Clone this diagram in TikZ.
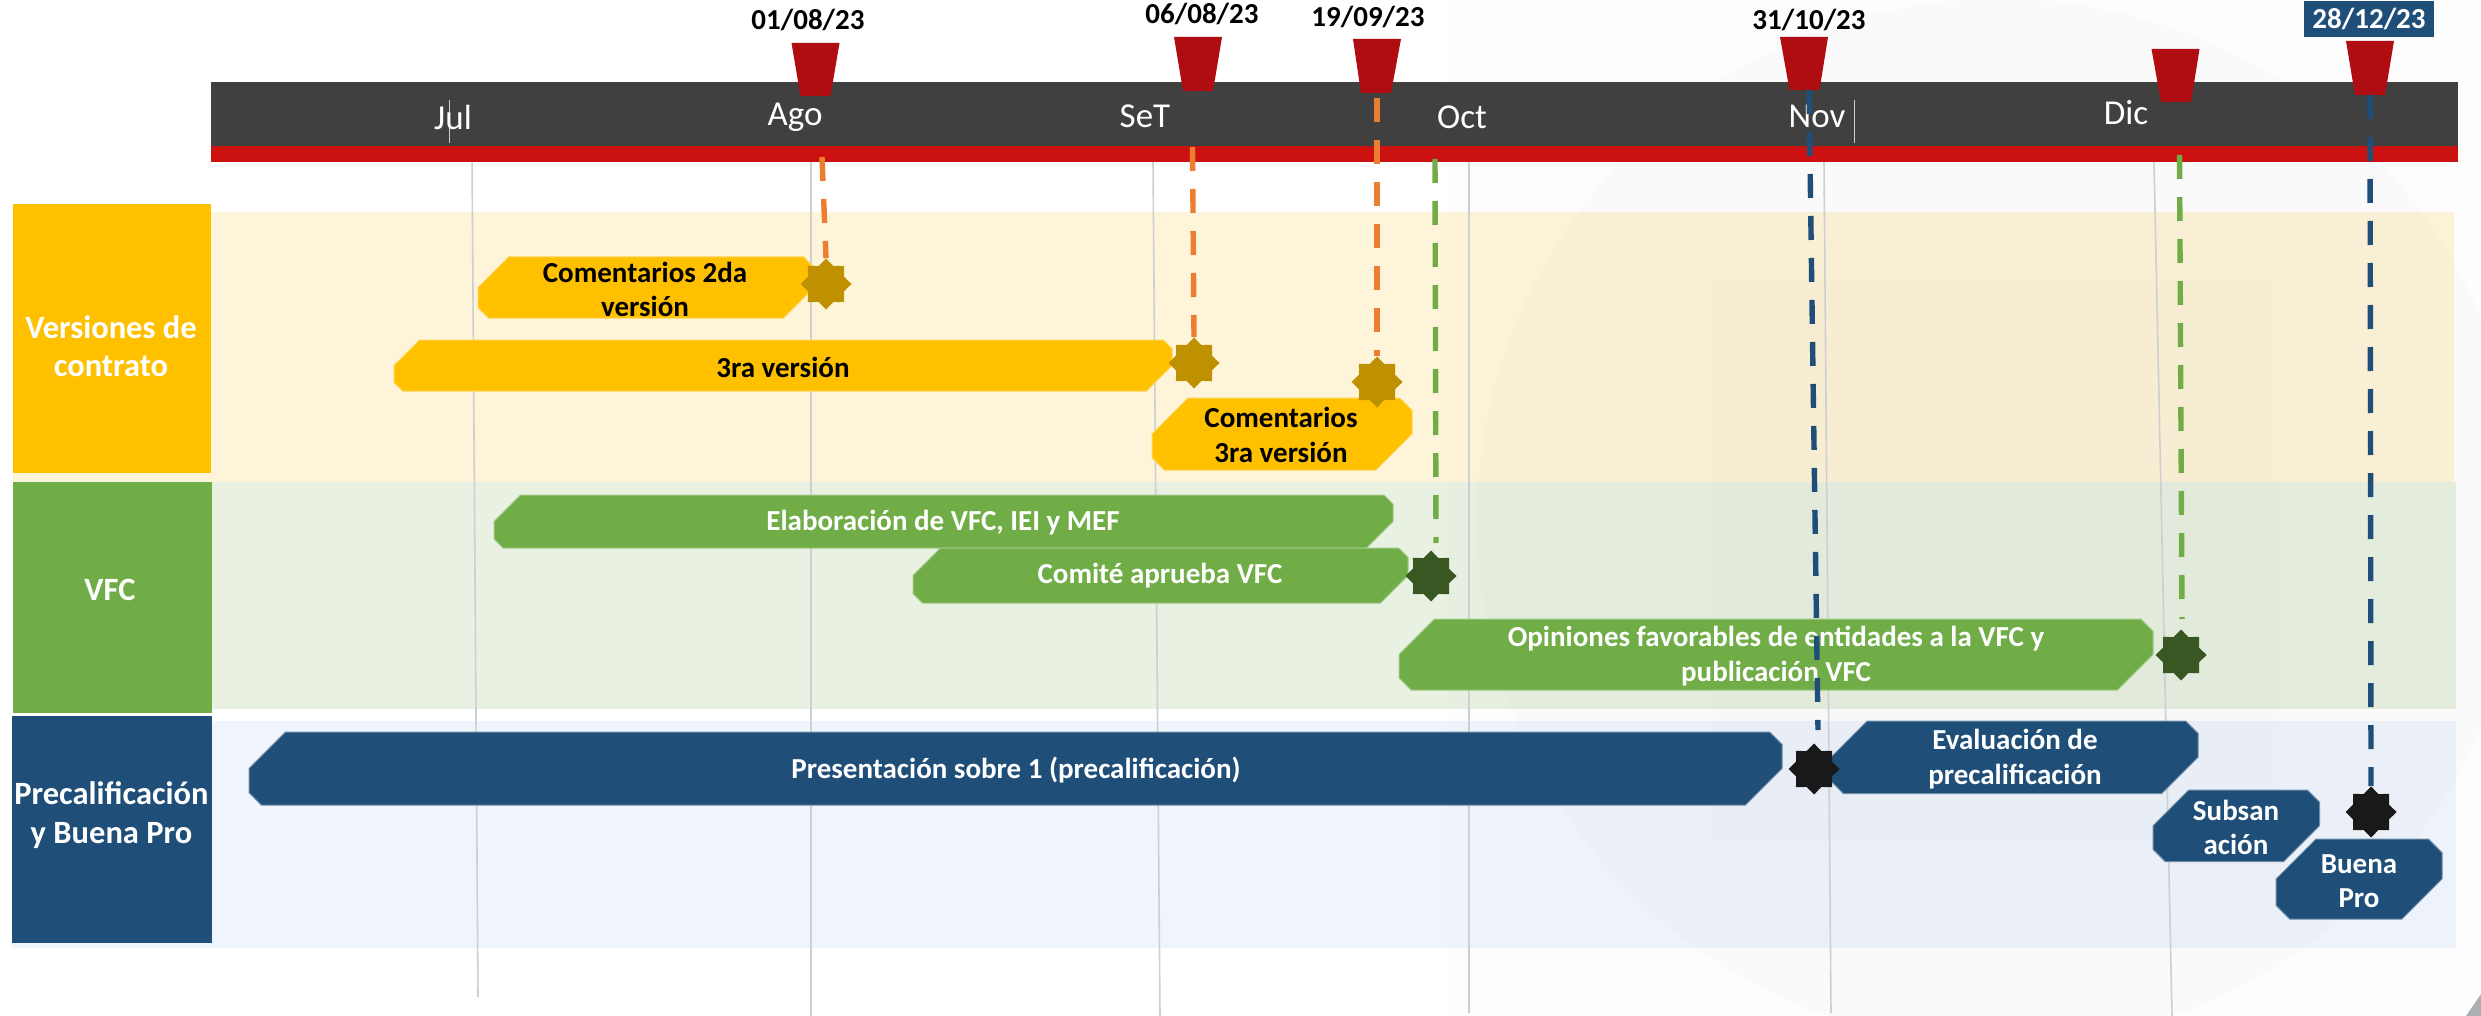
\documentclass[tikz,border=0pt]{standalone}
\usepackage{fontspec}
\setmainfont{Carlito}
\usetikzlibrary{shapes.geometric}
\pgfdeclarelayer{front}
\pgfsetlayers{main,front}
\definecolor{cY}{HTML}{FFC000}
\definecolor{cYb}{HTML}{FEF4DA}
\definecolor{cG}{HTML}{70AD47}
\definecolor{cGb}{HTML}{E9F1E2}
\definecolor{cN}{HTML}{1F4E79}
\definecolor{cNb}{HTML}{F0F4FC}
\definecolor{cDark}{HTML}{404040}
\definecolor{cRed}{HTML}{CC1111}
\definecolor{cMark}{HTML}{B00D12}
\definecolor{cOr}{HTML}{ED7D31}
\definecolor{cGrid}{HTML}{CCD0D0}
\definecolor{cCorner}{HTML}{ABAEB3}
\tikzset{
  x=1pt,y=-1pt,
  dateT/.style={font=\fontsize{29}{31}\selectfont\bfseries,text=black,inner sep=0pt},
  monthT/.style={font=\fontsize{35}{37}\selectfont,text=white,inner sep=0pt},
  barT/.style={font=\fontsize{29}{34.5}\selectfont\bfseries,align=center,inner sep=0pt},
  headT/.style={font=\fontsize{32.5}{38.5}\selectfont\bfseries,text=white,align=center,inner sep=0pt},
  gridL/.style={draw=cGrid,line width=1.6pt},
  dashL/.style={line width=5.4pt,dash pattern=on 24pt off 18pt},
  burst/.style={star,star points=8,star point ratio=1.31,minimum size=51pt,inner sep=0pt,draw=none,fill=#1},
  wm/.style={fill=black,fill opacity=#1,draw=none}
}
\newcommand{\snipbar}[9]{%
  \pgfmathsetmacro{\bs}{0.5*(#5-#3)}%
  \pgfmathsetmacro{\ss}{0.17*(#5-#3)}%
  \filldraw[fill=#6,draw=#6!65!white,line width=1pt] (#2+\bs,#3) -- (#4-\ss,#3) -- (#4,#3+\ss) -- (#4,#5-\bs) -- (#4-\bs,#5) -- (#2+\ss,#5) -- (#2,#5-\ss) -- (#2,#3+\bs) -- cycle;
  \node[barT,text=#7] (#1) at (#8,#9)}
\newcommand{\pin}[5]{%
  \fill[cMark] (#2-24,#3) -- (#2+24,#3) -- (#4+15,#5) -- (#4-15,#5) -- cycle;
  \coordinate (#1) at (#4,#5);}
\begin{document}
\begin{tikzpicture}
\useasboundingbox (0,0) rectangle (2481,1016);
\fill[white] (0,0) rectangle (2481,1016);
% bands
\fill[cYb] (13,212) rectangle (2454,482);
\fill[cGb] (212,482) rectangle (2456,709);
\fill[cNb] (12,721) rectangle (2456,948);
% watermark
\fill[wm=.006] (1446,0) rectangle (2481,1016);
\begin{scope}
\clip (1446,0) rectangle (2481,1016);
\fill[wm=.010] (2000,522) circle (523);
\fill[wm=.008] (1713,279) rectangle (2278,842);
\end{scope}
\fill[cCorner] (2481,994) -- (2481,1016) -- (2466,1016) -- cycle;
% grid lines
\draw[gridL] (472,153) -- (478,997);
\draw[gridL] (811,162) -- (811,1016);
\draw[gridL] (1153,162) -- (1160,1016);
\draw[gridL] (1469,162) -- (1469,1013);
\draw[gridL] (1824,162) -- (1831,1013);
\draw[gridL] (2154,162) -- (2172,1016);
% header labels
\fill[cY] (13,204) rectangle (211,473);
\fill[cG] (13,482) rectangle (212,713);
\fill[cN] (12,716) rectangle (212,942.5);
\node[headT] (hV) at (111,346) {Versiones de\\contrato};
\node[headT] (hF) at (110,590) {VFC};
\node[headT] (hP) at (111.5,815) {Precalificación\\y Buena Pro};
% timeline
\fill[cDark] (211,82) rectangle (2458,146);
\fill[cRed] (211,146) rectangle (2458,162);
\draw[cGrid,line width=1pt] (449,100) -- (449,143);
\draw[cGrid,line width=1pt] (1854,100) -- (1854,143);
\node[monthT] (mJ) at (453,117) {Jul};
\node[monthT] (mA) at (795,117) {Ago};
\node[monthT] (mS) at (1145,116) {SeT};
\node[monthT] (mO) at (1462,117) {Oct};
\node[monthT] (mN) at (1817,116) {Nov};
\node[monthT] (mD) at (2126,113) {Dic};
% bars
\snipbar{b1}{478}{257}{814}{318}{cY}{black}{645}{289.5}{Comentarios 2da\\versión};
\snipbar{b2}{394}{340}{1172}{391}{cY}{black}{783}{367}{3ra versión};
\snipbar{b3}{1152}{398}{1412}{470}{cY}{black}{1281}{435}{Comentarios\\3ra versión};
\snipbar{b4}{494}{495}{1393}{548}{cG}{white}{943}{523}{Elaboración de VFC, IEI y MEF};
\snipbar{b5}{913}{548}{1408}{603}{cG}{white}{1160}{576}{Comité aprueba VFC};
\snipbar{b6}{1399}{619}{2153}{690}{cG}{white}{1776}{656}{Opiniones favorables de entidades a la VFC y\\publicación VFC};
\snipbar{b7}{249}{732}{1782}{805}{cN}{white}{1016}{770}{Presentación sobre 1 (precalificación)};
\snipbar{b8}{1831}{721}{2198}{793.5}{cN}{white}{2015}{759}{Evaluación de\\precalificación};
\snipbar{b9}{2153}{790}{2319.5}{861.5}{cN}{white}{2236}{827.5}{Subsan\\ación};
\snipbar{b10}{2276}{839}{2442}{919}{cN}{white}{2359}{881}{Buena\\Pro};
% connector ends
\coordinate (d1) at (822,157);
\coordinate (d2) at (1192.5,147);
\coordinate (d3) at (1377,98);
\coordinate (d4) at (1435,159);
\coordinate (d4e) at (1436,543);
\coordinate (d5) at (2179.5,155);
\coordinate (d5e) at (2182,619);
\coordinate (d6) at (1809,90);
\coordinate (d6e) at (1818,730);
\coordinate (d7) at (2370,95);
% milestones
\begin{pgfonlayer}{front}
\node[burst=cY!75!black] (s1) at (826,284) {};
\node[burst=cY!75!black] (s2) at (1194,363) {};
\node[burst=cY!75!black] (s3) at (1377,382) {};
\node[burst=cG!50!black] (s4) at (1431,576) {};
\node[burst=cG!50!black] (s5) at (2181,655) {};
\node[burst={black!90}] (s6) at (1814,769) {};
\node[burst={black!90}] (s7) at (2371,812) {};
\end{pgfonlayer}
\draw[dashL,cOr] (d1) -- (s1.north);
\draw[dashL,cOr] (d2) -- (s2.north);
\draw[dashL,cOr] (d3) -- (s3.north);
\draw[dashL,cG] (d4) -- (d4e);
\draw[dashL,cG] (d5) -- (d5e);
\draw[dashL,cN] (d6) -- (d6e);
\draw[dashL,cN] (d7) -- (s7.north);
% pins
\pin{p1}{815.5}{43}{815.5}{96}
\pin{p2}{1198}{37}{1198}{91}
\pin{p3}{1377}{39}{1376}{93}
\pin{p4}{1804}{37}{1804.5}{90}
\pin{p5}{2175.5}{49}{2176}{102}
\pin{p6}{2370}{41}{2370}{95}
% dates
\node[dateT] (t1) at (808,20) {01/08/23};
\node[dateT] (t2) at (1202,14) {06/08/23};
\node[dateT] (t3) at (1368,17) {19/09/23};
\node[dateT] (t4) at (1809,20) {31/10/23};
\node[dateT,fill=cN,text=white,minimum width=130pt,minimum height=36pt] (t5) at (2369,19) {28/12/23};
\end{tikzpicture}
\end{document}
